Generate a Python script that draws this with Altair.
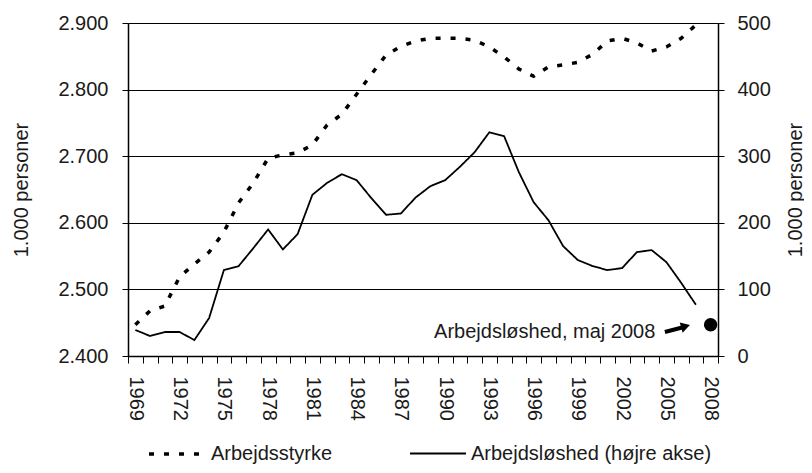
import altair as alt
import pandas as pd

years = list(range(1969, 2008))
arbejdsstyrke = [2447, 2468, 2475, 2519, 2538, 2556, 2586, 2630, 2660, 2697,
                 2702, 2705, 2717, 2747, 2763, 2793, 2823, 2852, 2865, 2873,
                 2877, 2877, 2877, 2874, 2864, 2849, 2831, 2820, 2834, 2837,
                 2841, 2853, 2873, 2877, 2870, 2858, 2864, 2877, 2897]
arbejdsloshed = [39, 30, 36, 36, 24, 57, 129, 135, 162, 190,
                 160, 183, 242, 260, 273, 264, 237, 212, 214, 238,
                 255, 264, 284, 306, 336, 330, 276, 231, 204, 165,
                 144, 135, 129, 132, 156, 159, 141, 110, 77]
series_names = ["Arbejdsstyrke", "Arbejdsløshed (højre akse)"]

maj2008_year = [2008]
maj2008_value = [47]
annot_text = ["Arbejdsløshed, maj 2008"]
annot_year = [2004.25]
annot_value = [36]
arrow_year = [2004.9]
arrow_value = [36]
arrow_year2 = [2006.2]
arrow_value2 = [43.5]
head_year = [2006.3]
head_value = [44.5]

left_ticks = [2400, 2500, 2600, 2700, 2800, 2900]
right_ticks = [0, 100, 200, 300, 400, 500]
x_tick_vals = [y - 0.5 for y in range(1969, 2010)]

FONT = "Liberation Sans"
TXT = "#1a1a1a"
W, H = 590, 333
half_band = W / 40 / 2

df_s = pd.DataFrame({"year": years, "value": arbejdsstyrke, "serie": series_names[0]})
df_l = pd.DataFrame({"year": years, "value": arbejdsloshed, "serie": series_names[1]})
df_dot = pd.DataFrame({"year": maj2008_year, "value": maj2008_value})
df_txt = pd.DataFrame({"year": annot_year, "value": annot_value, "t": annot_text})
df_arr = pd.DataFrame({"year": arrow_year, "value": arrow_value,
                       "year2": arrow_year2, "value2": arrow_value2})
df_head = pd.DataFrame({"year": head_year, "value": head_value})

X = alt.X("year:Q",
          scale=alt.Scale(domain=[1968.5, 2008.5], nice=False, zero=False),
          axis=alt.Axis(values=x_tick_vals,
                        labelExpr="((datum.value + 0.5 - 1969) % 3 == 0) ? format(datum.value + 0.5, 'd') : ''",
                        labelOffset=half_band, labelAngle=90, labelAlign="left",
                        labelBaseline="middle", tickSize=7, labelPadding=13,
                        grid=False, title=None, domainColor="black", domainWidth=1.5,
                        tickColor="black", tickWidth=1, labelFontSize=20, labelFont=FONT,
                        labelColor=TXT, labelOverlap=False, labelFlush=False,
                        labelBound=False))

Y_left = alt.Y("value:Q",
               scale=alt.Scale(domain=[2400, 2900], nice=False, zero=False),
               axis=alt.Axis(values=left_ticks,
                             labelExpr="replace(format(datum.value, ','), ',', '.')",
                             title="1.000 personer", titleAngle=270, titleX=-107,
                             titleY=H / 2, titleAlign="center", titleBaseline="middle",
                             titleFont=FONT, titleFontSize=20, titleFontWeight="normal",
                             titleColor=TXT, grid=True, gridColor="black", gridWidth=1,
                             tickSize=6, labelPadding=14, tickColor="black",
                             domainColor="black", domainWidth=1.5,
                             labelFontSize=20, labelFont=FONT, labelColor=TXT))

Y_right = alt.Y("value:Q",
                scale=alt.Scale(domain=[0, 500], nice=False, zero=False),
                axis=alt.Axis(orient="right", values=right_ticks, format="d",
                              title="1.000 personer", titleAngle=270, titleX=77,
                              titleY=H / 2, titleAlign="center", titleBaseline="middle",
                              titleFont=FONT, titleFontSize=20, titleFontWeight="normal",
                              titleColor=TXT, grid=False,
                              tickSize=6, labelPadding=13, tickColor="black",
                              domainColor="black", domainWidth=1.5,
                              labelFontSize=20, labelFont=FONT, labelColor=TXT))

legend = alt.Legend(orient="none", legendX=19, legendY=401, direction="horizontal",
                    title=None, symbolType="stroke", symbolSize=3136,
                    symbolStrokeColor="black", labelFontSize=20, labelFont=FONT,
                    labelColor=TXT, labelOffset=4, columnPadding=73, labelLimit=400)

dash = alt.StrokeDash("serie:N",
                      scale=alt.Scale(domain=series_names, range=[[5, 10], [1, 0]]),
                      legend=legend)
swidth = alt.StrokeWidth("serie:N",
                         scale=alt.Scale(domain=series_names, range=[3.5, 1.8]),
                         legend=legend)

line_s = alt.Chart(df_s).mark_line(color="black", strokeCap="butt").encode(
    x=X, y=Y_left, strokeDash=dash, strokeWidth=swidth)

line_l = alt.Chart(df_l).mark_line(color="black").encode(
    x=X, y=Y_right, strokeDash=dash, strokeWidth=swidth)

dot = alt.Chart(df_dot).mark_circle(color="black", size=180, opacity=1).encode(x=X, y=Y_right)

txt = alt.Chart(df_txt).mark_text(align="right", baseline="middle", fontSize=20,
                                  font=FONT, color=TXT).encode(x=X, y=Y_right, text="t:N")

arrow = alt.Chart(df_arr).mark_rule(color="black", strokeWidth=4).encode(
    x=X, y=Y_right, x2="year2:Q", y2="value2:Q")

head = alt.Chart(df_head).mark_point(shape="triangle-right", filled=True, size=110,
                                     angle=344, color="black", opacity=1).encode(x=X, y=Y_right)

right = alt.layer(line_l, dot, txt, arrow, head)

chart = alt.layer(line_s, right).resolve_scale(y="independent").properties(
    width=W, height=H,
    autosize=alt.AutoSizeParams(type="none"),
    padding={"left": 120, "top": 15, "right": 86, "bottom": 109},
).configure_view(stroke="black", strokeWidth=1.5).configure(background="white")

chart.save("out.html", embed_options={"renderer": "svg", "actions": False})
